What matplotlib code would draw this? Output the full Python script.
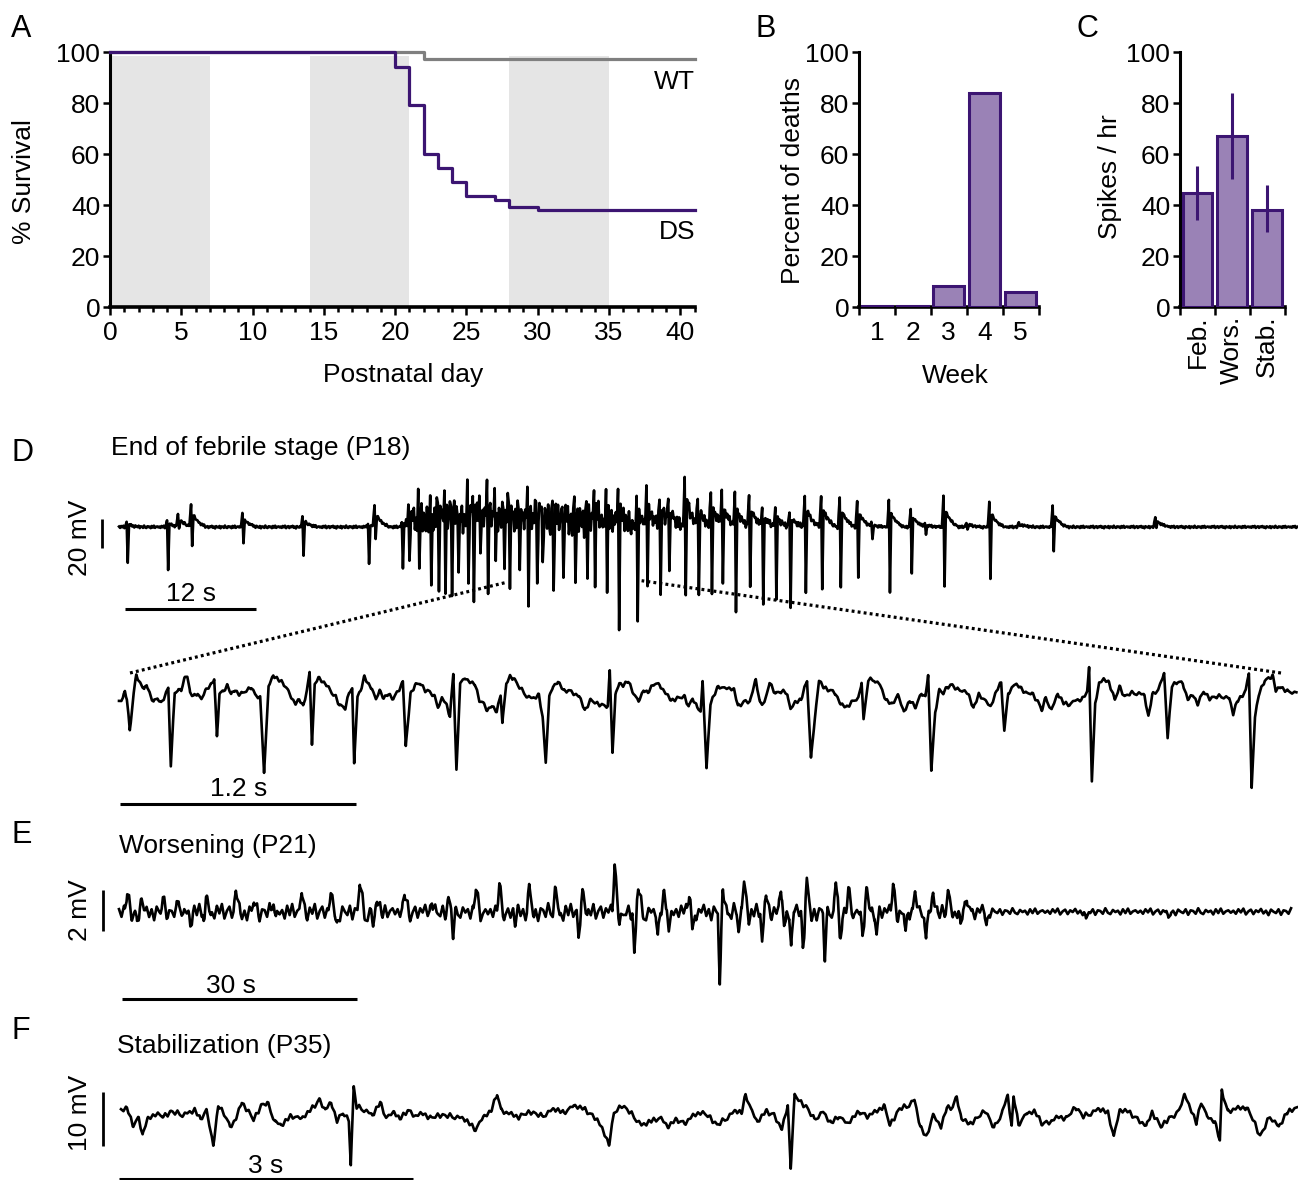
import numpy as np
import matplotlib
matplotlib.use("Agg")
import matplotlib.pyplot as plt
from matplotlib.lines import Line2D

plt.rcParams['font.family'] = ['Liberation Sans', 'DejaVu Sans']

W, H = 1298, 1180
FS = 19
PURPLE = '#3c1572'
FILL = '#9a82b6'

# ---------------- A: survival curves ----------------
shade_start = [0, 14, 28]
shade_end = [7, 21, 35]
wt_day = [0, 22, 41]
wt_surv = [100, 97.3, 97.3]
ds_day = [0, 20, 21, 22, 23, 24, 25, 27, 28, 30, 41]
ds_surv = [100, 94.4, 79.3, 60.1, 54.8, 49.3, 43.8, 42.1, 39.5, 38.2, 38.2]

# ---------------- B: deaths per week ----------------
weeks = [1, 2, 3, 4, 5]
pct_deaths = [0.6, 0.6, 8.5, 84.0, 6.1]

# ---------------- C: spikes per hour ----------------
stages = ['Feb.', 'Wors.', 'Stab.']
spikes_mean = [44.7, 67.1, 38.2]
spikes_lo = [34.2, 50.5, 29.7]
spikes_hi = [55.6, 84.2, 47.8]

# ---------------- D: overview trace, spikes (s, mV) ----------------
d_spike_t = [0.7, 4.4, 5.4, 6.6, 11.3, 16.8, 22.8, 23.4, 25.9,
             26.5, 27.4, 28.5, 29.2, 29.8, 30.4, 31.0, 31.9, 32.4, 33.0,
             33.7, 34.4, 35.2, 35.7, 36.6, 37.4, 38.2, 38.7, 39.7, 40.6,
             41.7, 42.8, 43.5, 44.6, 45.7, 47.4, 48.3, 49.5, 50.3, 51.8,
             53.0, 54.2, 55.2, 56.4, 57.7, 58.9, 60.1, 61.4, 62.8, 64.3,
             66.0, 67.6, 68.9, 70.5, 72.5, 73.8, 75.5, 77.6, 79.7, 82.4,
             85.5, 94.9]
d_spike_up = [3, 4, 9, 16, 9, 7, 2, 15, 3,
              14, 18, 15, 20, 12, 18, 14, 20, 12, 16,
              19, 14, 20, 13, 17, 15, 20, 12, 18, 15,
              21, 14, 19, 17, 22, 16, 22, 24, 19, 33,
              20, 24, 23, 22, 23, 12, 12, 11, 22, 23,
              21, 18, 2, 18, 13, 2, 21, 3, 17, 3.4,
              14, 7]
d_spike_down = [-24, -29, -2, -14, -11, -20, -26, -9, -28,
                -29, -30, -40, -48, -48, -55, -42, -37, -48, -26,
                -40, -21, -35, -40, -32, -48, -44, -37, -48, -40,
                -48, -30, -35, -44, -62, -62, -41, -51, -39, -44,
                -49, -44, -42, -59, -44, -55, -50, -58, -46, -44,
                -43, -36, -8, -45, -33, -5, -41, -2, -36, 0,
                -16, 0]
d_env_t = [0, 26.0, 26.8, 45, 48, 56, 70, 108]
d_env_mv = [1.0, 1.0, 11, 11, 7, 3, 1.0, 0.8]

# ---------------- D: expanded trace (s, mV) ----------------
dz_t = [0.000, 0.020, 0.030, 0.040, 0.055, 0.075, 0.088, 0.108, 0.128, 0.141,
        0.157, 0.176, 0.196, 0.215, 0.235, 0.251, 0.264, 0.284, 0.303, 0.317,
        0.333, 0.348, 0.362, 0.381, 0.401, 0.420, 0.440, 0.469, 0.485, 0.499,
        0.512, 0.532, 0.551, 0.571, 0.590, 0.610, 0.629, 0.655, 0.674, 0.694,
        0.719, 0.739, 0.762, 0.786, 0.811, 0.836, 0.860, 0.879, 0.899, 0.918,
        0.938, 0.957, 0.971, 0.983, 0.997, 1.016, 1.036, 1.055, 1.084, 1.104,
        1.123, 1.153, 1.172, 1.188, 1.198, 1.215, 1.231, 1.250, 1.270, 1.289,
        1.309, 1.328, 1.348, 1.371, 1.397, 1.426, 1.446, 1.461, 1.485, 1.508,
        1.534, 1.559, 1.582, 1.606, 1.625, 1.645, 1.670, 1.686, 1.703, 1.719,
        1.738, 1.762, 1.787, 1.813, 1.836, 1.856, 1.875, 1.899, 1.924, 1.944,
        1.953, 1.973, 1.992, 2.012, 2.031, 2.051, 2.080, 2.110, 2.139, 2.158,
        2.174, 2.192, 2.211, 2.236, 2.266, 2.289, 2.315, 2.344, 2.373, 2.402,
        2.432, 2.461, 2.490, 2.500, 2.514, 2.529, 2.549, 2.568, 2.594, 2.621,
        2.647, 2.672, 2.695, 2.725, 2.754, 2.783, 2.812, 2.842, 2.882, 2.902,
        2.922, 2.946, 2.963, 2.973, 2.993, 3.013, 3.033, 3.053, 3.083, 3.113,
        3.133, 3.153, 3.184, 3.214, 3.244, 3.264, 3.288, 3.314, 3.344, 3.375,
        3.405, 3.421, 3.445, 3.475, 3.505, 3.525, 3.545, 3.566, 3.590, 3.622,
        3.650, 3.676, 3.706, 3.736, 3.767, 3.783, 3.793, 3.817, 3.847, 3.877,
        3.907, 3.937, 3.968, 3.998, 4.028, 4.058, 4.088, 4.108, 4.122, 4.138,
        4.158, 4.179, 4.199, 4.219, 4.245, 4.269, 4.299, 4.329, 4.353, 4.380,
        4.410, 4.440, 4.470, 4.494, 4.510, 4.530, 4.560, 4.591, 4.621, 4.651,
        4.681, 4.701, 4.721, 4.751, 4.782, 4.812, 4.842, 4.872, 4.902, 4.932,
        4.942, 4.956, 4.973, 4.993, 5.017, 5.043, 5.073, 5.097, 5.123, 5.153,
        5.194, 5.224, 5.244, 5.264, 5.294, 5.324, 5.342, 5.364, 5.391, 5.419,
        5.445, 5.471, 5.495, 5.525, 5.555, 5.596, 5.626, 5.656, 5.676, 5.696,
        5.720, 5.740, 5.756, 5.770, 5.787, 5.807, 5.837, 5.863, 5.877, 5.893,
        5.917, 5.957, 5.998]
dz_mv = [-1.1, 1.2, 5.8, 0.0, -20.7, 4.6, 17.3, 11.5, 6.9, 10.4,
         4.6, -1.1, 1.2, -2.3, 3.5, 8.1, -44.8, 4.6, 8.1, 5.8,
         15.0, 17.3, 4.6, 2.3, 4.6, 0.0, 6.9, 10.4, 13.8, -24.8,
         4.6, 5.8, 10.4, 3.5, 6.9, 4.6, 4.6, 6.9, 9.2, 3.5,
         1.2, -49.4, 9.2, 17.3, 13.8, 11.5, 6.9, 1.2, -2.3, 0.0,
         -4.6, 6.9, 18.4, -29.9, 10.4, 15.0, 12.7, 11.5, 4.6, 2.3,
         -3.4, -5.7, 4.6, 9.2, -44.1, 2.3, 6.9, 16.1, 10.4, 8.1,
         0.0, 6.9, 1.2, 3.5, 1.2, 6.9, 12.7, -32.6, 4.6, 10.4,
         11.5, 6.9, 5.8, 2.3, -4.6, 1.2, -3.4, -11.5, 18.4, -48.9,
         11.5, 15.0, 12.7, 10.4, 0.0, -2.3, -6.9, -4.6, -8.0, 4.6,
         -16.1, 11.5, 16.1, 15.0, 10.4, 6.9, 2.3, 1.2, 3.5, -12.6,
         -42.5, 2.3, 9.2, 12.7, 5.8, 6.9, 4.6, 2.3, -6.9, 0.0,
         -2.3, -3.4, -4.6, 19.6, -35.6, 3.5, 11.5, 10.4, 12.7, 4.6,
         -1.1, 6.9, 4.6, 11.5, 10.4, 4.6, 0.0, 1.2, 2.3, -4.6,
         1.2, -5.7, -6.9, 12.7, -47.1, -2.3, 3.5, 9.2, 8.1, 8.1,
         6.9, -4.6, -1.1, -1.1, 13.8, -1.1, -2.3, 12.0, 4.6, 5.8,
         4.6, -6.9, -1.1, 0.0, 13.8, -40.2, -12.6, 13.8, 8.1, 6.9,
         4.6, -3.4, -4.6, -1.1, 1.2, 12.7, -13.8, 13.8, 13.8, 10.4,
         0.0, -3.4, 3.5, -8.0, -1.1, -4.6, 4.6, 2.3, 16.6, -48.3,
         -8.0, 6.9, 4.6, 9.2, 10.4, 6.9, 6.9, 3.5, -5.7, 3.5,
         0.0, -4.6, 5.8, 12.0, -21.1, 4.6, 10.4, 9.2, 4.6, 4.6,
         -1.1, -6.9, 1.2, -6.9, 4.6, -2.3, -3.4, 0.0, 0.0, 4.6,
         23.5, -56.3, -2.3, 11.5, 13.8, 12.7, 0.0, 9.2, 2.3, 4.6,
         4.6, 3.5, -11.9, 3.5, 6.9, 18.4, -25.7, 9.2, 12.7, 11.5,
         0.0, 3.5, -2.3, 5.8, 1.2, 2.3, 2.3, 1.2, -9.2, -1.1,
         2.3, 6.9, 18.4, -60.9, -11.5, 3.5, 13.8, 15.0, 17.3, 5.8,
         9.2, 5.8, 4.2]

# ---------------- E: worsening trace (s, mV) ----------------
e_peak_t = [1.05, 2.8, 5.6, 7.6, 11.1, 14.9, 17.2, 19.7, 23.3, 27.0,
            30.7, 32.9, 36.4, 39.9, 42.0, 45.5, 48.5, 52.3, 55.6, 59.1,
            63.2, 66.2, 69.5, 72.7, 77.0, 79.7, 82.5, 84.4, 87.7, 91.4,
            93.0, 95.3, 98.7, 101.5, 103.8, 105.7, 108.1]
e_peak_mv = [0.81, 0.57, 0.65, 0.49, 0.9, 0.98, 0.57, 0.57, 0.98, 0.81,
             1.55, 0.73, 0.81, 0.65, 0.57, 1.14, 1.22, 1.22, 1.14, 1.06,
             2.36, 1.3, 0.81, 0.98, 1.22, 1.51, 0.86, 1.14, 1.43, 1.38,
             1.03, 1.01, 1.43, 0.98, 0.98, 0.98, 0.73]
e_trough_t = [2.3, 9.1, 10.9, 20.0, 27.8, 32.4, 42.6, 50.5, 58.6, 65.7,
              68.7, 70.1, 73.1, 76.6, 79.0, 82.0, 84.8, 85.7, 87.2, 90.0,
              91.9, 94.8, 96.6, 100.3, 102.9, 107.3, 110.6, 123.3, 133.8]
e_trough_mv = [-0.57, -0.65, -0.7, -0.4, -0.49, -0.73, -1.06, -0.73, -1.41, -2.16,
               -1.22, -0.86, -1.19, -3.58, -0.73, -1.54, -0.97, -1.71, -1.63, -2.36,
               -1.3, -1.22, -1.09, -0.97, -1.3, -0.76, -0.65, -0.4, -0.4]
e_env_t = [0, 110, 112, 150]
e_env_mv = [0.42, 0.42, 0.17, 0.17]

# ---------------- F: stabilization trace (s, mV) ----------------
f_t = [0.00, 0.06, 0.12, 0.18, 0.22, 0.27, 0.35, 0.43, 0.51, 0.63,
       0.75, 0.81, 0.87, 0.94, 0.99, 1.05, 1.11, 1.17, 1.23, 1.29,
       1.35, 1.43, 1.49, 1.57, 1.63, 1.73, 1.84, 1.92, 2.02, 2.08,
       2.14, 2.20, 2.26, 2.32, 2.34, 2.37, 2.40, 2.48, 2.56, 2.64,
       2.70, 2.78, 2.84, 2.92, 3.00, 3.08, 3.16, 3.24, 3.37, 3.49,
       3.61, 3.69, 3.77, 3.83, 3.87, 3.93, 4.05, 4.17, 4.29, 4.41,
       4.51, 4.61, 4.73, 4.85, 4.97, 5.02, 5.10, 5.16, 5.22, 5.30,
       5.38, 5.50, 5.57, 5.66, 5.74, 5.82, 5.90, 5.99, 6.07, 6.15,
       6.26, 6.32, 6.36, 6.42, 6.48, 6.57, 6.65, 6.73, 6.79, 6.82,
       6.86, 6.92, 6.98, 7.06, 7.15, 7.23, 7.31, 7.40, 7.52, 7.60,
       7.69, 7.77, 7.83, 7.93, 8.00, 8.08, 8.14, 8.20, 8.27, 8.35,
       8.41, 8.47, 8.51, 8.56, 8.64, 8.72, 8.80, 8.89, 8.97, 9.03,
       9.07, 9.09, 9.14, 9.22, 9.30, 9.38, 9.47, 9.55, 9.63, 9.72,
       9.80, 9.88, 9.96, 10.05, 10.11, 10.17, 10.25, 10.34, 10.44, 10.50,
       10.59, 10.67, 10.75, 10.83, 10.90, 10.95, 11.00, 11.06, 11.14, 11.19,
       11.21, 11.27, 11.37, 11.46, 11.54, 11.60, 11.70, 11.79, 11.87, 11.95]
f_mv = [0.6, 0.9, -2.2, -0.9, -4.0, -1.2, 0.0, -0.6, 0.3, -0.3,
        0.6, -1.2, 0.6, -5.9, 1.2, 0.0, -2.5, -1.2, 2.1, 0.6,
        -1.2, 1.5, 1.9, -1.6, -2.2, -0.6, -0.9, 0.3, 2.5, 0.6,
        1.9, -1.2, 0.0, -1.2, -9.6, 4.9, 1.2, 0.6, -0.3, 1.9,
        -0.9, 0.3, -1.2, 0.6, -0.6, 0.0, -0.9, -0.3, -0.6, -0.9,
        -3.1, -0.6, 0.3, 3.7, 0.6, 0.0, -0.6, 0.3, -0.6, 0.9,
        0.0, 1.5, 0.6, -1.2, -5.6, 0.0, 1.5, 0.6, -0.6, -2.2,
        -1.6, -0.9, -2.5, -1.2, -1.9, -0.6, 0.3, -0.6, -2.2, -1.2,
        0.6, 0.0, 3.4, 0.6, -1.6, 0.3, -0.3, -3.1, 1.5, -9.9,
        3.4, 2.1, 1.2, -1.2, 0.3, -1.9, -0.6, -1.9, 0.3, -0.6,
        0.3, 1.5, -2.2, 0.9, 1.2, 2.5, -2.5, -4.6, -0.3, -2.5,
        0.9, 1.2, 3.1, -1.2, -1.9, -0.9, 0.6, -2.8, 0.0, 3.4,
        -2.5, 3.1, -2.2, 0.0, 0.3, -1.9, -1.6, -0.6, -0.9, 1.2,
        -0.6, 0.0, 0.9, 0.0, -4.3, 0.6, 0.3, -0.9, -2.5, 0.3,
        -2.5, -0.9, -0.3, 3.4, 0.6, -1.9, 2.1, -0.6, -1.6, -5.3,
        4.3, 0.3, 0.9, 1.2, -1.6, -4.3, -0.6, -2.5, 0.0, 0.9]

# fine jitter used for the unreadable background of the recordings
texture = [0.3, -0.6, 0.7, -0.2, 0.9, -0.8, 0.1, 0.6, -0.7, 0.4,
           -0.1, 0.8, -0.5, 0.3, -1.0, 0.6, 0.0, -0.4, 0.7, -0.9,
           0.4, 0.2, -0.6, 1.0, -0.3, -0.7, 0.5, -0.1, 0.3, -0.8,
           0.7, -0.4, 0.9, -0.6, 0.1, 0.4, -0.3]


def textured(t_end, step, env_t, env_a):
    grid = np.arange(0.0, t_end, step)
    return grid, np.resize(texture, grid.size) * np.interp(grid, env_t, env_a)


def with_events(grid, base, events):
    # events: list of (time, offsets, values) shapes added to the background
    knots = np.concatenate([t + np.asarray(dt) for t, dt, _ in events])
    tt = np.union1d(grid, knots)
    tt = tt[(tt >= grid[0]) & (tt <= grid[-1])]
    y = np.interp(tt, grid, base)
    for t, dt, v in events:
        y += np.interp(tt, t + np.asarray(dt), v, left=0, right=0)
    return tt, y


def with_jitter(t, v, t_end, step, amp):
    grid = np.arange(0.0, t_end, step)
    fine = np.resize(texture, grid.size) * amp
    tt = np.union1d(grid, t)
    return tt, np.interp(tt, t, v) + np.interp(tt, grid, fine)


fig = plt.figure(figsize=(W / 100, H / 100), dpi=100)


def px_axes(x0, y0, x1, y1):
    return fig.add_axes([x0 / W, 1 - y1 / H, (x1 - x0) / W, (y1 - y0) / H])


def ftext(x, y, s, **kw):
    kw.setdefault('fontsize', FS)
    kw.setdefault('ha', 'center')
    kw.setdefault('va', 'center')
    fig.text(x / W, 1 - y / H, s, **kw)


def style_axes(ax):
    for side in ('top', 'right'):
        ax.spines[side].set_visible(False)
    ax.spines['left'].set_linewidth(2.2)
    ax.spines['bottom'].set_linewidth(2.6)
    ax.tick_params(which='both', direction='out', width=1.8, labelsize=FS, color='black')
    ax.tick_params(axis='y', length=5, pad=2)
    ax.set_ylim(0, 100)
    ax.set_yticks(range(0, 101, 20))
    ax.set_facecolor('none')


# ---- A
axA = px_axes(110, 52.3, 694.6, 307.3)
style_axes(axA)
for s0, s1 in zip(shade_start, shade_end):
    axA.axvspan(s0, s1, ymin=0, ymax=0.985, color='#e5e5e5', lw=0, zorder=0)
axA.step(wt_day, wt_surv, where='post', color='#7f7f7f', lw=2.3, clip_on=False, zorder=3)
axA.step(ds_day, ds_surv, where='post', color=PURPLE, lw=2.3, clip_on=False, zorder=4)
axA.set_xlim(0, 41)
axA.set_xticks(range(0, 41, 5))
axA.set_xticks(range(0, 42), minor=True)
axA.tick_params(axis='x', which='major', length=6, pad=4)
axA.tick_params(axis='x', which='minor', length=3.5)

# ---- B
axB = px_axes(859, 52.3, 1038.5, 307.3)
style_axes(axB)
axB.bar(weeks, pct_deaths, width=0.86, color=FILL, edgecolor=PURPLE, lw=2.2, zorder=3)
axB.set_xlim(0.5, 5.5)
axB.set_xticks(np.arange(0.5, 5.6, 1.0))
axB.set_xticklabels([])
axB.set_xticks(weeks, minor=True)
axB.set_xticklabels([str(w) for w in weeks], minor=True)
axB.tick_params(axis='x', which='major', length=6)
axB.tick_params(axis='x', which='minor', length=0, pad=10)

# ---- C
axC = px_axes(1180, 52.3, 1284.6, 307.3)
style_axes(axC)
xc = np.arange(1, len(stages) + 1)
err = [np.subtract(spikes_mean, spikes_lo), np.subtract(spikes_hi, spikes_mean)]
axC.bar(xc, spikes_mean, width=0.85, color=FILL, edgecolor=PURPLE, lw=2.2, zorder=3)
axC.errorbar(xc, spikes_mean, yerr=err, fmt='none', ecolor=PURPLE, elinewidth=2.2,
             capsize=0, zorder=4)
axC.set_xlim(0.5, 3.5)
axC.set_xticks(np.arange(0.5, 3.6, 1.0))
axC.set_xticklabels([])
axC.set_xticks(xc, minor=True)
axC.set_xticklabels(stages, minor=True, rotation=90, va='top', ha='center')
axC.tick_params(axis='x', which='major', length=6)
axC.tick_params(axis='x', which='minor', length=0, pad=6)

# panel texts
LETTER = 22
ftext(11, 29, 'A', ha='left', fontsize=LETTER)
ftext(755, 29, 'B', ha='left', fontsize=LETTER)
ftext(1077, 29, 'C', ha='left', fontsize=LETTER)
ftext(24, 182, '% Survival', rotation=90)
ftext(403, 375, 'Postnatal day')
ftext(695, 82, 'WT', ha='right')
ftext(695, 232, 'DS', ha='right')
ftext(793, 181, 'Percent of deaths', rotation=90)
ftext(955, 376, 'Week')
ftext(1110, 177, 'Spikes / hr', rotation=90)


# ---- traces
def trace_axes(y0, y1, x_t0, px_per_s, y_base, px_per_mv):
    ax = px_axes(60, y0, W, y1)
    ax.set_xlim((60 - x_t0) / px_per_s, (W - x_t0) / px_per_s)
    ax.set_ylim((y_base - y1) / px_per_mv, (y_base - y0) / px_per_mv)
    ax.axis('off')
    return ax


def px2data(ax, x, y):
    return ax.transData.inverted().transform((x, H - y))


def vbar(ax, x, y_bottom, length):
    t, v = px2data(ax, x, y_bottom)
    ax.plot([t, t], [v, v + length], color='black', lw=2.0, clip_on=False,
            solid_capstyle='butt')


def hbar(ax, x_left, y, length):
    t, v = px2data(ax, x_left, y)
    ax.plot([t, t + length], [v, v], color='black', lw=2.2, clip_on=False,
            solid_capstyle='butt')


TRACE = dict(color='black', lw=1.9, solid_joinstyle='round')

# D overview
axD = trace_axes(470, 640, 119, 10.92, 527, 1.45)
grid, base = textured(108.0, 0.1, d_env_t, d_env_mv)
d_dt = [-0.15, 0.0, 0.1, 0.22, 0.5, 0.9, 1.4]
d_events = [(t, d_dt, [0, u, d, 0.5 * u, 0.3 * u, 0.12 * u, 0])
            for t, u, d in zip(d_spike_t, d_spike_up, d_spike_down)]
tt, yy = with_events(grid, base, d_events)
axD.plot(tt, yy, **TRACE)
vbar(axD, 102, 548, 20)
hbar(axD, 125, 609.3, 12)

# D expanded
axDz = trace_axes(640, 815, 119, 196.3, 700, 1.45)
tt, yy = with_jitter(dz_t, dz_mv, 6.0, 0.012, 1.6)
axDz.plot(tt, yy, **TRACE)
hbar(axDz, 120, 804, 1.2)

dots = dict(color='black', lw=2.3, linestyle=(0, (0.9, 1.0)), transform=fig.transFigure)
fig.add_artist(Line2D([130 / W, 505 / W], [1 - 673 / H, 1 - 582.7 / H], **dots))
fig.add_artist(Line2D([1281 / W, 641.6 / W], [1 - 673 / H, 1 - 580.7 / H], **dots))

# E
axE = trace_axes(855, 1005, 119, 7.843, 911.7, 20.35)
grid, base = textured(149.7, 0.32, e_env_t, e_env_mv)
e_events = [(t, [-0.3, 0.0, 0.6, 1.4], [0, a, -0.2 * a, 0]) for t, a in zip(e_peak_t, e_peak_mv)]
e_events += [(t, [-0.25, 0.0, 0.35], [0, b, 0]) for t, b in zip(e_trough_t, e_trough_mv)]
tt, yy = with_events(grid, base, e_events)
axE.plot(tt, yy, **TRACE)
vbar(axE, 103.3, 930.7, 2)
hbar(axE, 121.5, 999, 30)

# F
axF = trace_axes(1060, 1180, 121, 98.2, 1113.3, 5.37)
tt, yy = with_jitter(f_t, f_mv, 11.98, 0.025, 0.55)
axF.plot(tt, yy, **TRACE)
vbar(axF, 103.3, 1146, 10)
hbar(axF, 118.5, 1178.5, 3)

# trace texts
ftext(11, 453, 'D', ha='left', fontsize=LETTER)
ftext(11, 835, 'E', ha='left', fontsize=LETTER)
ftext(11, 1031, 'F', ha='left', fontsize=LETTER)
ftext(111, 448, 'End of febrile stage (P18)', ha='left')
ftext(119, 846, 'Worsening (P21)', ha='left')
ftext(117, 1046, 'Stabilization (P35)', ha='left')
ftext(80, 538, '20 mV', rotation=90)
ftext(191, 594, '12 s')
ftext(239, 789, '1.2 s')
ftext(80, 910, '2 mV', rotation=90)
ftext(231, 986, '30 s')
ftext(80, 1113, '10 mV', rotation=90)
ftext(266, 1166, '3 s')

fig.savefig('out.png', dpi=100)
